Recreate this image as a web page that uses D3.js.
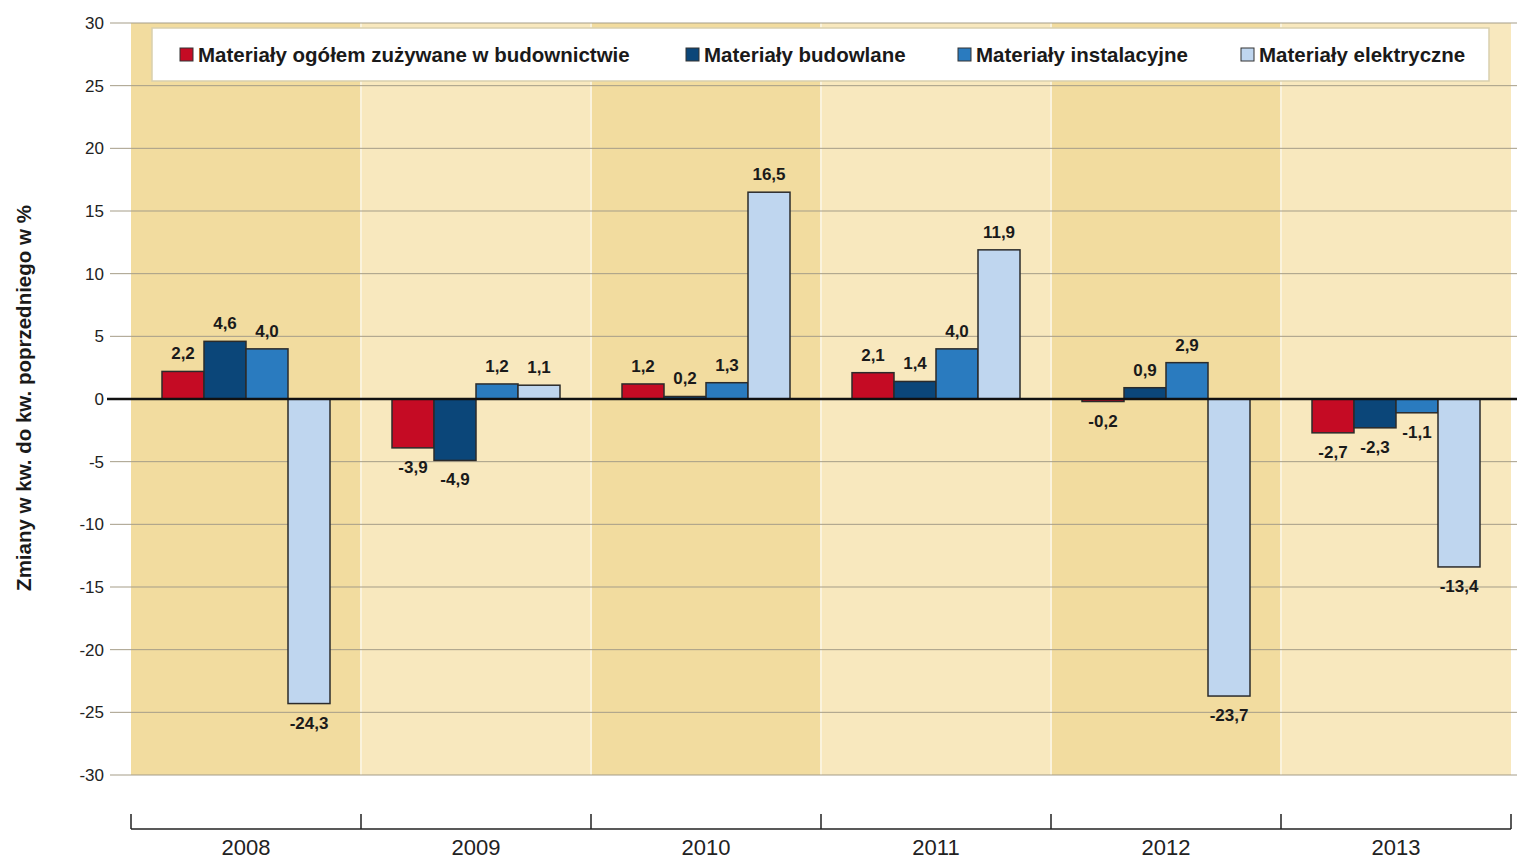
<!DOCTYPE html>
<meta charset="utf-8">
<style>
  body { margin: 0; background: #fff; }
  text { font-family: "Liberation Sans", Arial, Helvetica, sans-serif; }
  .tick-label { font-size: 17px; fill: #222; }
  .val { font-size: 17px; font-weight: bold; fill: #1a1a1a; text-anchor: middle; }
  .legend text { font-size: 20.5px; font-weight: bold; fill: #1a1a1a; }
</style>
<svg width="1517" height="859"></svg>
<script src="https://d3js.org/d3.v7.min.js"></script>
<script>
  var years = ["2008", "2009", "2010", "2011", "2012", "2013"];
  var seriesNames = ["Materiały ogółem zużywane w budownictwie", "Materiały budowlane", "Materiały instalacyjne", "Materiały elektryczne"];
  var seriesColors = ["#c50b24", "#0b4679", "#2a7bbf", "#bfd6ef"];
  var ogolem = [2.2, -3.9, 1.2, 2.1, -0.2, -2.7];
  var budowlane = [4.6, -4.9, 0.2, 1.4, 0.9, -2.3];
  var instalacyjne = [4.0, 1.2, 1.3, 4.0, 2.9, -1.1];
  var elektryczne = [-24.3, 1.1, 16.5, 11.9, -23.7, -13.4];
  var yTicks = [30, 25, 20, 15, 10, 5, 0, -5, -10, -15, -20, -25, -30];

  var series = [ogolem, budowlane, instalacyjne, elektryczne];

  var svg = d3.select("svg"),
    plotLeft = 131, plotRight = 1511, plotTop = 23, plotBottom = 775;

  var x0 = d3.scaleBand().domain(years).range([plotLeft, plotRight]).padding(0);
  var x1 = d3.scaleBand().domain(d3.range(4)).range([31, x0.bandwidth() - 31]).padding(0);
  var y = d3.scaleLinear().domain([-30, 30]).range([plotBottom, plotTop]);

  // year background bands
  svg.append("g").selectAll("rect")
    .data(years)
    .enter().append("rect")
    .attr("x", function (d) { return x0(d); })
    .attr("y", plotTop)
    .attr("width", x0.bandwidth())
    .attr("height", plotBottom - plotTop)
    .style("fill", function (d, i) { return i % 2 ? "#f8e8be" : "#f2dc9f"; });

  svg.append("g").selectAll("line")
    .data(years.slice(1))
    .enter().append("line")
    .attr("x1", function (d) { return x0(d); })
    .attr("x2", function (d) { return x0(d); })
    .attr("y1", plotTop).attr("y2", plotBottom)
    .style("stroke", "#fbf3dc").style("stroke-width", 2);

  // grid lines
  svg.append("g").selectAll("line")
    .data(yTicks.filter(function (d) { return d !== 0; }))
    .enter().append("line")
    .attr("x1", 110).attr("x2", 1517)
    .attr("y1", function (d) { return y(d); })
    .attr("y2", function (d) { return y(d); })
    .style("stroke", "#a59d88").style("stroke-width", 1);

  svg.append("g").selectAll("text")
    .data(yTicks)
    .enter().append("text")
    .attr("class", "tick-label")
    .attr("x", 104)
    .attr("y", function (d) { return y(d) + 6; })
    .attr("text-anchor", "end")
    .text(function (d) { return d; });

  // legend
  var legend = svg.append("g").attr("class", "legend");
  legend.append("rect")
    .attr("x", 152).attr("y", 28).attr("width", 1337).attr("height", 53)
    .style("fill", "#fff").style("stroke", "#d9cfae").style("stroke-width", 1.5);
  var legendX = [180, 686, 958, 1241];
  var item = legend.selectAll("g.item")
    .data(seriesNames)
    .enter().append("g")
    .attr("class", "item")
    .attr("transform", function (d, i) { return "translate(" + legendX[i] + ",55)"; });
  item.append("rect")
    .attr("x", 0).attr("y", -7).attr("width", 13).attr("height", 13)
    .style("fill", function (d, i) { return seriesColors[i]; })
    .style("stroke", "#333").style("stroke-width", 1);
  item.append("text")
    .attr("x", 18).attr("y", 7)
    .text(function (d) { return d; });

  // bars
  var groups = svg.append("g").selectAll("g")
    .data(years)
    .enter().append("g")
    .attr("transform", function (d) { return "translate(" + x0(d) + ",0)"; });

  var cells = groups.selectAll("g")
    .data(function (d, yi) { return series.map(function (s, si) { return { s: si, v: s[yi] }; }); })
    .enter().append("g");

  cells.append("rect")
    .attr("x", function (d) { return x1(d.s); })
    .attr("width", x1.bandwidth())
    .attr("y", function (d) { return y(Math.max(0, d.v)); })
    .attr("height", function (d) { return Math.abs(y(d.v) - y(0)); })
    .style("fill", function (d) { return seriesColors[d.s]; })
    .style("stroke", "#2b2b2b").style("stroke-width", 1.5);

  cells.append("text")
    .attr("class", "val")
    .attr("x", function (d) { return x1(d.s) + x1.bandwidth() / 2; })
    .attr("y", function (d) { return d.v >= 0 ? y(d.v) - 12 : y(d.v) + 25; })
    .text(function (d) { return d3.format(".1f")(d.v).replace(".", ",").replace("−", "-"); });

  // zero line
  svg.append("line")
    .attr("x1", 107).attr("x2", 1517)
    .attr("y1", y(0)).attr("y2", y(0))
    .style("stroke", "#111").style("stroke-width", 2.5);

  // bottom year axis
  var axisY = 829;
  svg.append("line")
    .attr("x1", plotLeft).attr("x2", plotRight)
    .attr("y1", axisY).attr("y2", axisY)
    .style("stroke", "#222").style("stroke-width", 1.5);
  svg.append("g").selectAll("line")
    .data(years.map(function (d) { return x0(d); }).concat([plotRight]))
    .enter().append("line")
    .attr("x1", function (d) { return d; }).attr("x2", function (d) { return d; })
    .attr("y1", axisY - 15).attr("y2", axisY)
    .style("stroke", "#222").style("stroke-width", 1.5);
  svg.append("g").selectAll("text")
    .data(years)
    .enter().append("text")
    .attr("x", function (d) { return x0(d) + x0.bandwidth() / 2; })
    .attr("y", 855)
    .attr("text-anchor", "middle")
    .style("font-size", "22px").style("fill", "#222")
    .text(function (d) { return d; });

  // y axis title
  svg.append("text")
    .attr("transform", "translate(31,398) rotate(-90)")
    .attr("text-anchor", "middle")
    .style("font-size", "20.5px").style("font-weight", "bold").style("fill", "#1a1a1a")
    .text("Zmiany w kw. do kw. poprzedniego w %");
</script>
